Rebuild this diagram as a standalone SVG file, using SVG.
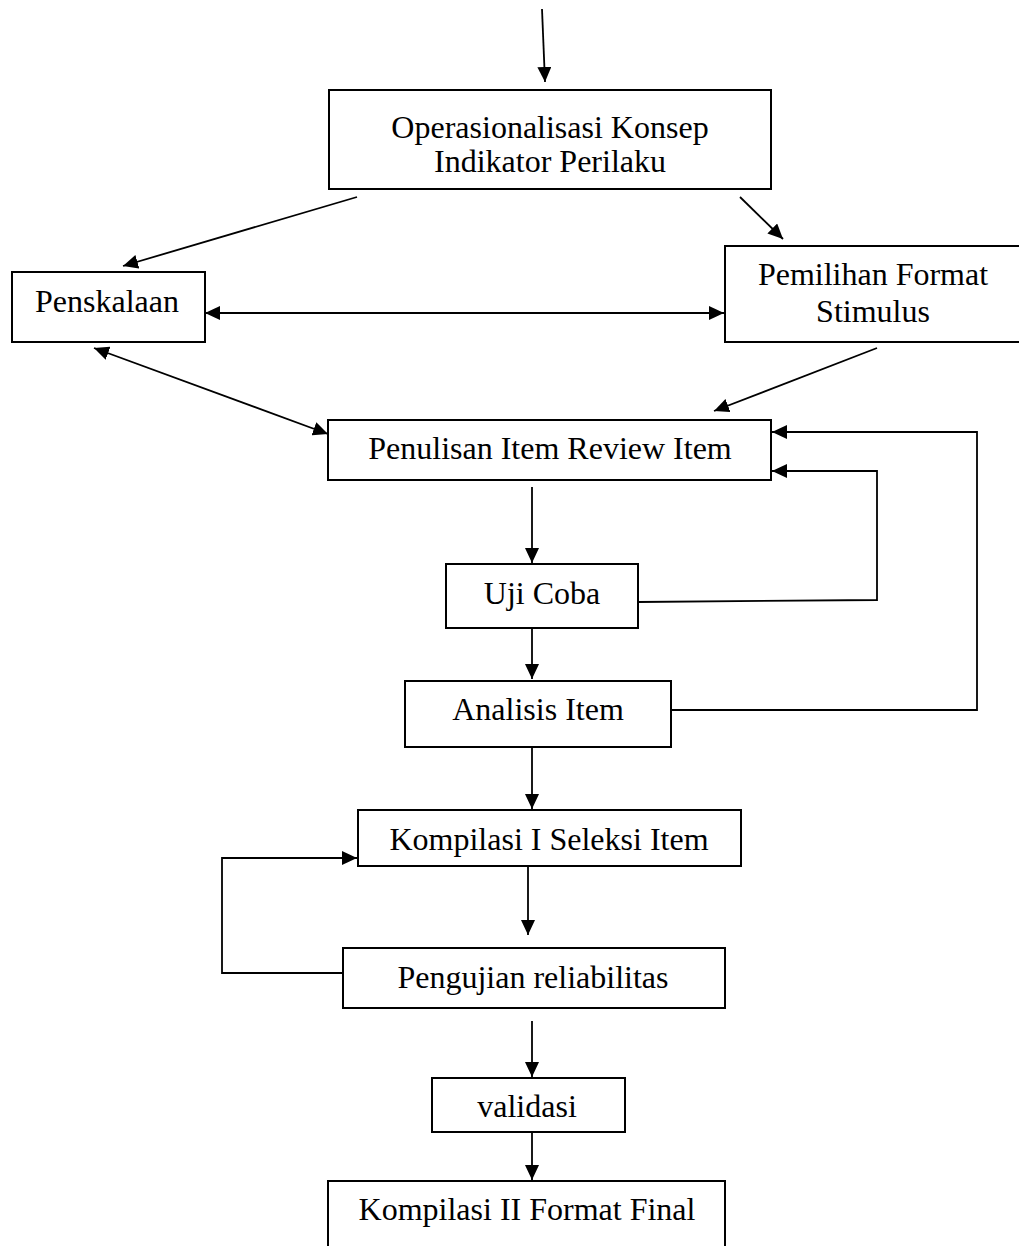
<svg xmlns="http://www.w3.org/2000/svg" width="1019" height="1246" viewBox="0 0 1019 1246">
<defs>
<style>
.box{fill:#fff;stroke:#000;stroke-width:2}
.t{font-family:"Liberation Serif","Times New Roman",serif;font-size:32px;fill:#000;text-anchor:middle}
.c{fill:none;stroke:#000;stroke-width:1.8}
</style>
<marker id="ah" viewBox="0 0 15 14" refX="15" refY="7" markerWidth="15" markerHeight="14" markerUnits="userSpaceOnUse" orient="auto-start-reverse">
<path d="M0,0 L15,7 L0,14 z" fill="#000"/>
</marker>
</defs>
<rect width="1019" height="1246" fill="#fff"/>
<g id="connectors">
<line class="c" x1="542" y1="9" x2="545" y2="82" marker-end="url(#ah)"/>
<line class="c" x1="357" y1="197" x2="123" y2="266" marker-end="url(#ah)"/>
<line class="c" x1="740" y1="197" x2="783" y2="239" marker-end="url(#ah)"/>
<line class="c" x1="205" y1="313" x2="724" y2="313" stroke-width="2.2" marker-start="url(#ah)" marker-end="url(#ah)"/>
<line class="c" x1="877" y1="348" x2="714" y2="411" marker-end="url(#ah)"/>
<line class="c" x1="94" y1="348" x2="328" y2="434" marker-start="url(#ah)" marker-end="url(#ah)"/>
<polyline class="c" points="671,710 977,710 977,432 772,432" marker-end="url(#ah)"/>
<polyline class="c" points="638,602 877,600 877,471 772,471" marker-end="url(#ah)"/>
<line class="c" x1="532" y1="487" x2="532" y2="563" marker-end="url(#ah)"/>
<line class="c" x1="532" y1="628" x2="532" y2="679" marker-end="url(#ah)"/>
<line class="c" x1="532" y1="747" x2="532" y2="809" marker-end="url(#ah)"/>
<line class="c" x1="528" y1="866" x2="528" y2="935" marker-end="url(#ah)"/>
<polyline class="c" points="343,973 222,973 222,858 357,858" marker-end="url(#ah)"/>
<line class="c" x1="532" y1="1021" x2="532" y2="1077" marker-end="url(#ah)"/>
<line class="c" x1="532" y1="1132" x2="532" y2="1180" marker-end="url(#ah)"/>
</g>
<g id="operasionalisasi">
<rect class="box" x="329" y="90" width="442" height="99"/>
<text class="t" x="550" y="138">Operasionalisasi Konsep</text>
<text class="t" x="550" y="172">Indikator Perilaku</text>
</g>
<g id="penskalaan">
<rect class="box" x="12" y="272" width="193" height="70"/>
<text class="t" x="107" y="312">Penskalaan</text>
</g>
<g id="pemilihan">
<rect class="box" x="725" y="246" width="300" height="96"/>
<text class="t" x="873" y="285">Pemilihan Format</text>
<text class="t" x="873" y="322">Stimulus</text>
</g>
<g id="penulisan">
<rect class="box" x="328" y="420" width="443" height="60"/>
<text class="t" x="550" y="459">Penulisan Item Review Item</text>
</g>
<g id="ujicoba">
<rect class="box" x="446" y="564" width="192" height="64"/>
<text class="t" x="542" y="604">Uji Coba</text>
</g>
<g id="analisis">
<rect class="box" x="405" y="681" width="266" height="66"/>
<text class="t" x="538" y="720">Analisis Item</text>
</g>
<g id="kompilasi1">
<rect class="box" x="358" y="810" width="383" height="56"/>
<text class="t" x="549" y="850">Kompilasi I Seleksi Item</text>
</g>
<g id="pengujian">
<rect class="box" x="343" y="948" width="382" height="60"/>
<text class="t" x="533" y="988">Pengujian reliabilitas</text>
</g>
<g id="validasi">
<rect class="box" x="432" y="1078" width="193" height="54"/>
<text class="t" x="527" y="1117">validasi</text>
</g>
<g id="kompilasi2">
<rect class="box" x="328" y="1181" width="397" height="75"/>
<text class="t" x="527" y="1220">Kompilasi II Format Final</text>
</g>
</svg>
